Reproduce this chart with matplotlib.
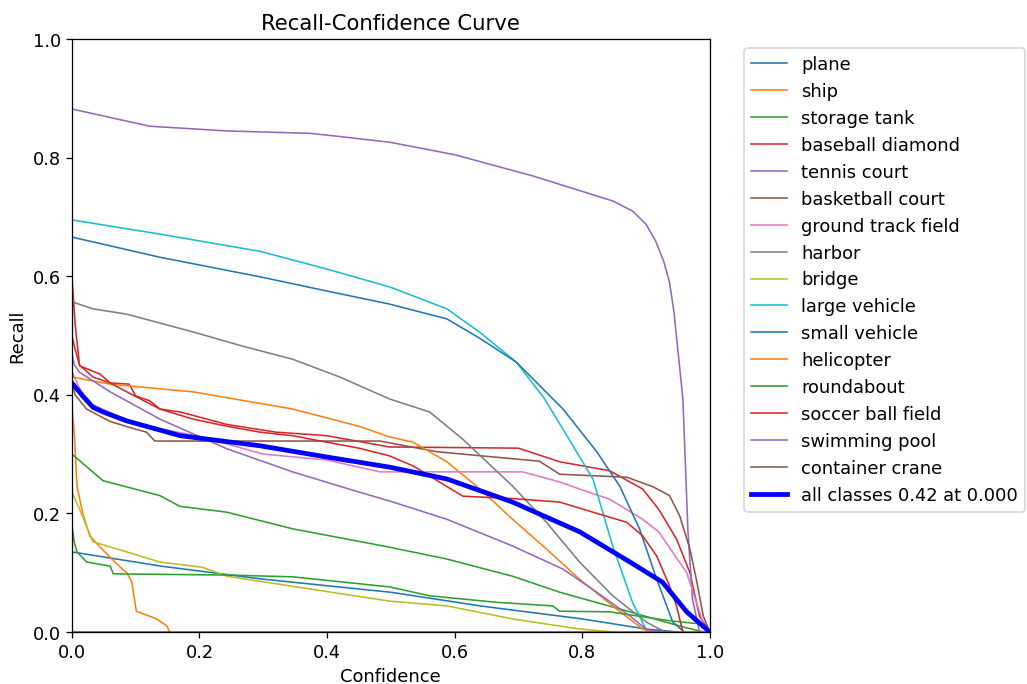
import matplotlib
matplotlib.use("Agg")
import matplotlib.pyplot as plt

plt.rcParams["font.size"] = 11.2
plt.rcParams["axes.titlesize"] = 13.4
plt.rcParams["axes.labelsize"] = 11.3
plt.rcParams["legend.fontsize"] = 11.3

names = ["plane", "ship", "storage tank", "baseball diamond", "tennis court",
         "basketball court", "ground track field", "harbor", "bridge",
         "large vehicle", "small vehicle", "helicopter", "roundabout",
         "soccer ball field", "swimming pool", "container crane"]

plane_x = [0, 0.14, 0.3, 0.5, 0.64, 0.8, 0.9, 0.95]
plane_y = [0.135, 0.111, 0.089, 0.067, 0.044, 0.022, 0.005, 0.0]

ship_x = [0, 0.004, 0.008, 0.017, 0.028, 0.04, 0.06, 0.075, 0.086, 0.094, 0.101, 0.133, 0.149, 0.153]
ship_y = [0.38, 0.33, 0.246, 0.2, 0.162, 0.148, 0.126, 0.11, 0.10, 0.084, 0.035, 0.022, 0.01, 0.0]

storage_x = [0, 0.049, 0.138, 0.169, 0.243, 0.346, 0.498, 0.588, 0.691, 0.765, 0.875, 0.953, 0.99]
storage_y = [0.30, 0.255, 0.23, 0.212, 0.202, 0.174, 0.143, 0.123, 0.094, 0.067, 0.034, 0.01, 0.0]

baseball_x = [0, 0.005, 0.012, 0.044, 0.06, 0.09, 0.10, 0.122, 0.138, 0.17, 0.243, 0.32, 0.40, 0.498,
              0.7, 0.765, 0.843, 0.895, 0.92, 0.948, 0.969, 0.984, 1.0]
baseball_y = [0.60, 0.52, 0.449, 0.435, 0.42, 0.418, 0.398, 0.39, 0.376, 0.371, 0.35, 0.337, 0.331, 0.312,
              0.31, 0.287, 0.272, 0.241, 0.207, 0.157, 0.10, 0.027, 0.0]

tennis_x = [0, 0.122, 0.243, 0.373, 0.425, 0.498, 0.6, 0.723, 0.848, 0.879, 0.9, 0.915, 0.928, 0.937,
            0.944, 0.95, 0.958, 0.961, 0.966, 0.973, 0.984]
tennis_y = [0.882, 0.853, 0.845, 0.841, 0.835, 0.826, 0.805, 0.769, 0.727, 0.71, 0.688, 0.66, 0.625, 0.59,
            0.54, 0.477, 0.393, 0.309, 0.169, 0.056, 0.0]

basketball_x = [0, 0.005, 0.023, 0.06, 0.10, 0.117, 0.13, 0.483, 0.572, 0.733, 0.765, 0.87, 0.911,
                0.937, 0.953, 0.969, 0.98, 0.99, 1.0]
basketball_y = [0.42, 0.40, 0.376, 0.355, 0.342, 0.337, 0.322, 0.322, 0.304, 0.288, 0.266, 0.261, 0.245,
                0.23, 0.196, 0.14, 0.084, 0.027, 0.0]

gtf_x = [0, 0.008, 0.023, 0.06, 0.10, 0.2, 0.3, 0.4, 0.483, 0.707, 0.765, 0.796, 0.843, 0.895,
         0.92, 0.964, 0.984, 0.995]
gtf_y = [0.44, 0.42, 0.388, 0.37, 0.35, 0.33, 0.30, 0.29, 0.27, 0.27, 0.253, 0.241, 0.224, 0.19,
         0.169, 0.10, 0.034, 0.0]

harbor_x = [0, 0.005, 0.033, 0.086, 0.19, 0.268, 0.346, 0.42, 0.498, 0.561, 0.613, 0.691, 0.744,
            0.796, 0.848, 0.90, 0.93]
harbor_y = [0.56, 0.555, 0.545, 0.536, 0.506, 0.482, 0.46, 0.43, 0.393, 0.371, 0.325, 0.246, 0.185,
            0.118, 0.061, 0.017, 0.0]

bridge_x = [0, 0.012, 0.033, 0.086, 0.138, 0.205, 0.243, 0.346, 0.498, 0.588, 0.691, 0.796, 0.85]
bridge_y = [0.236, 0.207, 0.152, 0.135, 0.118, 0.109, 0.094, 0.077, 0.052, 0.044, 0.022, 0.005, 0.0]

large_x = [0, 0.138, 0.295, 0.40, 0.498, 0.588, 0.64, 0.697, 0.74, 0.77, 0.817, 0.848, 0.879, 0.90, 0.91]
large_y = [0.695, 0.671, 0.642, 0.612, 0.582, 0.545, 0.505, 0.455, 0.395, 0.342, 0.258, 0.145, 0.05, 0.005, 0.0]

small_x = [0, 0.138, 0.295, 0.40, 0.498, 0.588, 0.64, 0.697, 0.77, 0.823, 0.859, 0.89, 0.917, 0.942, 0.96]
small_y = [0.666, 0.632, 0.599, 0.575, 0.553, 0.528, 0.495, 0.455, 0.376, 0.304, 0.246, 0.174, 0.089, 0.017, 0.0]

heli_x = [0, 0.06, 0.19, 0.346, 0.45, 0.498, 0.535, 0.588, 0.64, 0.691, 0.744, 0.796, 0.848, 0.895, 0.91]
heli_y = [0.43, 0.418, 0.405, 0.376, 0.347, 0.329, 0.32, 0.287, 0.241, 0.19, 0.14, 0.089, 0.044, 0.005, 0.0]

round_x = [0, 0.004, 0.008, 0.023, 0.06, 0.065, 0.243, 0.346, 0.498, 0.561, 0.666, 0.754, 0.765,
           0.843, 0.937, 0.99, 1.0]
round_y = [0.179, 0.15, 0.135, 0.118, 0.111, 0.098, 0.096, 0.093, 0.076, 0.061, 0.05, 0.044, 0.035,
           0.034, 0.019, 0.013, 0.0]

soccer_x = [0, 0.005, 0.012, 0.033, 0.06, 0.086, 0.138, 0.19, 0.243, 0.295, 0.346, 0.40, 0.45, 0.498,
            0.535, 0.613, 0.691, 0.765, 0.817, 0.87, 0.895, 0.917, 0.937, 0.948, 0.958]
soccer_y = [0.50, 0.477, 0.45, 0.43, 0.42, 0.405, 0.376, 0.359, 0.347, 0.337, 0.331, 0.32, 0.31, 0.297,
            0.28, 0.229, 0.225, 0.219, 0.202, 0.185, 0.162, 0.128, 0.078, 0.044, 0.0]

pool_x = [0, 0.004, 0.012, 0.06, 0.138, 0.243, 0.346, 0.45, 0.498, 0.588, 0.691, 0.77, 0.823, 0.875, 0.90, 0.92]
pool_y = [0.47, 0.45, 0.438, 0.405, 0.359, 0.309, 0.27, 0.236, 0.221, 0.19, 0.145, 0.106, 0.067, 0.027, 0.005, 0.0]

crane_x = [0, 1.0]
crane_y = [0.0, 0.0]

all_x = [0, 0.017, 0.033, 0.049, 0.086, 0.17, 0.295, 0.40, 0.498, 0.588, 0.691, 0.796, 0.875, 0.926, 0.964, 1.0]
all_y = [0.42, 0.398, 0.379, 0.371, 0.356, 0.331, 0.314, 0.295, 0.278, 0.258, 0.219, 0.169, 0.118, 0.084, 0.034, 0.0]
all_label = "all classes 0.42 at 0.000"

series = [(plane_x, plane_y), (ship_x, ship_y), (storage_x, storage_y), (baseball_x, baseball_y),
          (tennis_x, tennis_y), (basketball_x, basketball_y), (gtf_x, gtf_y), (harbor_x, harbor_y),
          (bridge_x, bridge_y), (large_x, large_y), (small_x, small_y), (heli_x, heli_y),
          (round_x, round_y), (soccer_x, soccer_y), (pool_x, pool_y), (crane_x, crane_y)]

fig = plt.figure(figsize=(9, 6), dpi=1027 / 9)
ax = fig.add_axes([0.070, 0.076, 0.621, 0.866])
for name, (xs, ys) in zip(names, series):
    ax.plot(xs, ys, linewidth=1, label=name)
ax.plot(all_x, all_y, linewidth=3, color="blue", label=all_label)

ax.set_xlim(0, 1)
ax.set_ylim(0, 1)
ax.set_xlabel("Confidence")
ax.set_ylabel("Recall")
ax.set_title("Recall-Confidence Curve")
ax.legend(bbox_to_anchor=(1.04, 1), loc="upper left")
fig.savefig("out.png", dpi=1027 / 9)
